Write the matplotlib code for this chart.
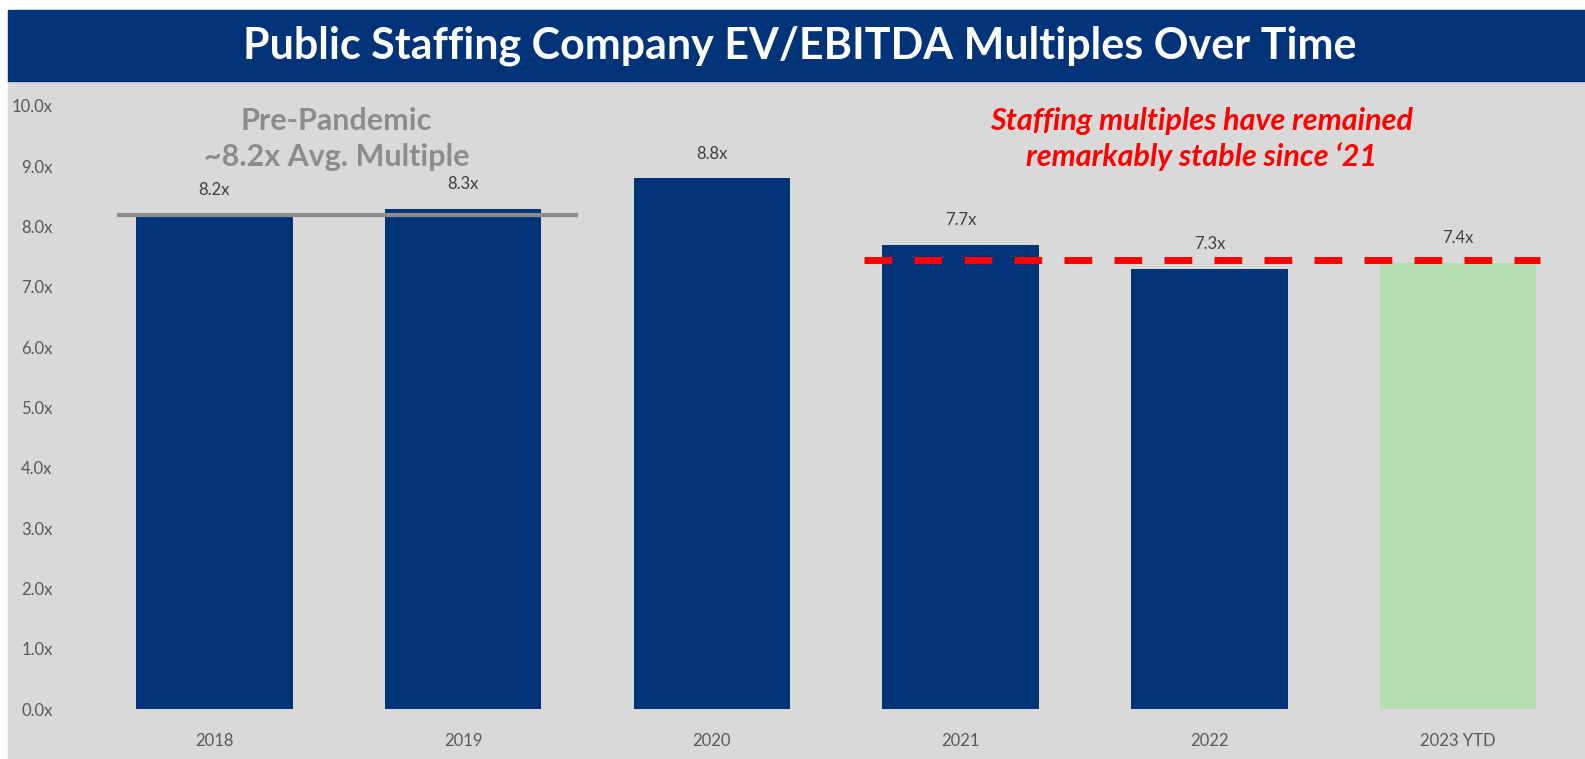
import matplotlib.pyplot as plt
from matplotlib.patches import Rectangle

# data
years = ['2018', '2019', '2020', '2021', '2022', '2023 YTD']
multiples = [8.2, 8.3, 8.8, 7.7, 7.3, 7.4]
bar_colors = ['#003378', '#003378', '#003378', '#003378', '#003378', '#b5deb1']
yticks = [0, 1, 2, 3, 4, 5, 6, 7, 8, 9, 10]

pre_avg = 8.2          # gray line, 2018-2019
pre_span = (-0.39, 1.46)
post_avg = 7.45        # red dashed line, 2021 onward
post_span = (2.61, 5.33)

W, H = 1585, 759
fig = plt.figure(figsize=(W / 100, H / 100), dpi=100, facecolor='white')

# background panel and title banner (run to the right and bottom edges)
fig.patches.append(Rectangle((8 / W, 0), 1 - 8 / W, 1 - 80 / H,
                             transform=fig.transFigure, color='#d9d9d9', zorder=-5))
fig.patches.append(Rectangle((8 / W, 1 - 81 / H), 1 - 8 / W, 71 / H,
                             transform=fig.transFigure, color='#003378', zorder=-5))
fig.text(800 / W, 1 - 46 / H, 'Public Staffing Company EV/EBITDA Multiples Over Time',
         ha='center', va='center', color='white', fontsize=31, fontweight='bold',
         family='Lato')

# axes: y=0 at px 709, y=10 at px 106
top_px, bot_px = 95, 709
ax = fig.add_axes([90 / W, 1 - bot_px / H, (1575 - 90) / W, (bot_px - top_px) / H])
ax.set_facecolor('none')
unit = (709 - 106) / 10
ax.set_ylim(0, (bot_px - top_px) / unit)
ax.set_xlim(-0.5, 5.47)

x = range(len(years))
bars = ax.bar(x, multiples, width=0.63, color=bar_colors, zorder=2)
for xi, v in zip(x, multiples):
    ax.annotate(f'{v:.1f}x', (xi, v), xytext=(0, 12), textcoords='offset points',
                ha='center', va='bottom', fontsize=12, color='#404040', family='Lato')

ax.hlines(pre_avg, *pre_span, color='#8c8c8c', lw=3, zorder=3)
ax.hlines(post_avg, *post_span, color='#ff0000', lw=5, linestyles=(0, (4, 3.2)), zorder=3)

ax.text(0.49, 9.45, 'Pre-Pandemic\n~8.2x Avg. Multiple', ha='center', va='center',
        fontsize=22, fontweight='bold', color='#8c8c8c', linespacing=1.35, family='Lato')
ax.text(3.97, 9.45, 'Staffing multiples have remained\nremarkably stable since \u201821',
        ha='center', va='center', fontsize=22, fontweight='bold', style='italic',
        color='#ff0000', linespacing=1.3, family='Lato')

ax.set_yticks(yticks)
ax.set_yticklabels([f'{t:.1f}x' for t in yticks])
ax.set_xticks(list(x))
ax.set_xticklabels(years)
ax.tick_params(length=0, labelsize=12, labelcolor='#595959')
ax.tick_params(axis='x', pad=17)
ax.tick_params(axis='y', pad=27)
for lab in ax.get_xticklabels() + ax.get_yticklabels():
    lab.set_family('Lato')
for s in ax.spines.values():
    s.set_visible(False)

fig.savefig('out.png', dpi=100, facecolor='white')
